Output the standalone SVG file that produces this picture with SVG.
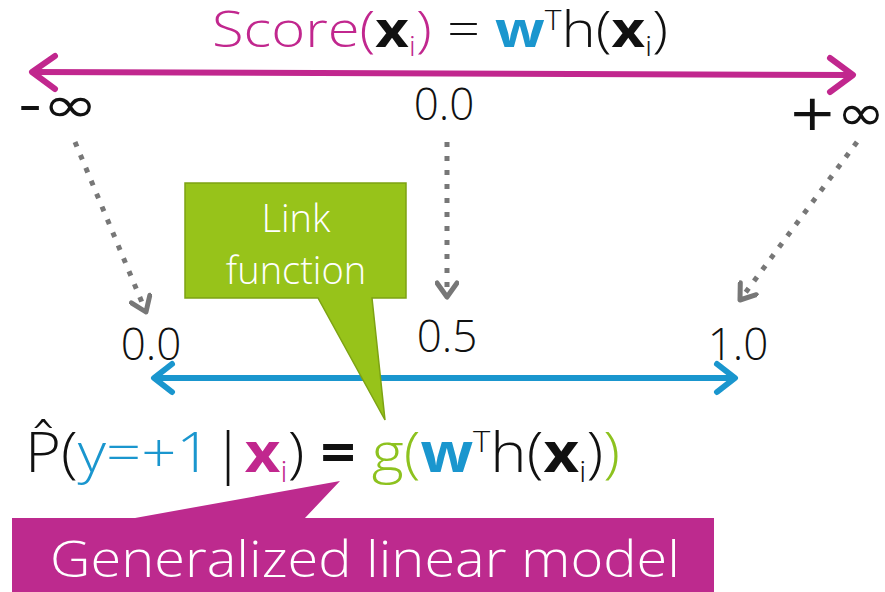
<svg xmlns="http://www.w3.org/2000/svg" width="885" height="592" viewBox="0 0 885 592">
<defs>
<style>
text{font-family:"Open Sans","Liberation Sans",sans-serif;font-weight:300;}
.mg{fill:#C1278E}.bl{fill:#1A96CE}.gr{fill:#8DC21F}.k{fill:#111}
.b{font-weight:700}
.dot{fill:none;stroke:#777;stroke-width:5;stroke-dasharray:5 9;marker-end:url(#chev)}
.inf{font-family:"DejaVu Sans",sans-serif;font-weight:400}
</style>
<marker id="chev" viewBox="0 0 24 24" refX="20" refY="12" markerWidth="24" markerHeight="24" orient="auto" markerUnits="userSpaceOnUse">
<path d="M6,2 L20,12 L6,22" fill="none" stroke="#777" stroke-width="5" stroke-dasharray="none" stroke-linecap="round" stroke-linejoin="round"/>
</marker>
</defs>
<g id="connectors">
<line x1="32" y1="72" x2="853" y2="75" stroke="#C1278E" stroke-width="6"/>
<polyline points="55,56 32,72 55,89" fill="none" stroke="#C1278E" stroke-width="6" stroke-linecap="round" stroke-linejoin="round"/>
<polyline points="830,58 853,75 830,92" fill="none" stroke="#C1278E" stroke-width="6" stroke-linecap="round" stroke-linejoin="round"/>
<line x1="154" y1="378" x2="735" y2="378" stroke="#1A96CE" stroke-width="6"/>
<polyline points="172,364 154,378 172,392" fill="none" stroke="#1A96CE" stroke-width="6" stroke-linecap="round" stroke-linejoin="round"/>
<polyline points="717,364 735,378 717,392" fill="none" stroke="#1A96CE" stroke-width="6" stroke-linecap="round" stroke-linejoin="round"/>
<path class="dot" d="M75,142 L146,312"/>
<path class="dot" d="M447,142 L447,297"/>
<path class="dot" d="M857,142 L740,300"/>
</g>
<g id="score-title">
<text x="212" y="47" font-size="49" textLength="456" lengthAdjust="spacingAndGlyphs"><tspan class="mg">Score(</tspan><tspan class="k b">x</tspan><tspan class="mg" font-size="27" dy="9">i</tspan><tspan class="mg" dy="-9">)</tspan><tspan class="k"> = </tspan><tspan class="bl b">w</tspan><tspan class="k" font-size="27" dy="-17">T</tspan><tspan class="k" dy="17">h(</tspan><tspan class="k b">x</tspan><tspan class="k" font-size="27" dy="9">i</tspan><tspan class="k" dy="-9">)</tspan></text>
</g>
<g id="labels-top">
<text x="18" y="122" font-size="50" class="k inf" textLength="80" lengthAdjust="spacingAndGlyphs">-∞</text>
<text x="444" y="120" font-size="44" class="k" text-anchor="middle">0.0</text>
<text x="788" y="130" font-size="50" class="k inf" textLength="97" lengthAdjust="spacingAndGlyphs">+∞</text>
</g>
<g id="labels-bottom">
<text x="151" y="360" font-size="44" class="k" text-anchor="middle">0.0</text>
<text x="447" y="352" font-size="44" class="k" text-anchor="middle">0.5</text>
<text x="738" y="360" font-size="44" class="k" text-anchor="middle">1.0</text>
</g>
<g id="link-function">
<path d="M185,183 H406 V298 H372 L385,420 L318,298 H185 Z" fill="#97C31A" stroke="#7DA313" stroke-width="1.5"/>
<text x="296" y="232" font-size="38" fill="#fff" text-anchor="middle">Link</text>
<text x="296" y="284" font-size="38" fill="#fff" text-anchor="middle">function</text>
</g>
<g id="formula">
<text x="25" y="472" font-size="56" textLength="595" lengthAdjust="spacingAndGlyphs"><tspan class="k">P̂(</tspan><tspan class="bl">y=+1</tspan><tspan class="k">|</tspan><tspan class="mg b">x</tspan><tspan class="mg" font-size="30" dy="10">i</tspan><tspan class="k" dy="-10">) </tspan><tspan class="k b">=</tspan><tspan class="k"> </tspan><tspan class="gr">g(</tspan><tspan class="bl b">w</tspan><tspan class="k" font-size="30" dy="-20">T</tspan><tspan class="k" dy="20">h(</tspan><tspan class="k b">x</tspan><tspan class="k" font-size="30" dy="10">i</tspan><tspan class="k" dy="-10">)</tspan><tspan class="gr">)</tspan></text>
</g>
<g id="glm">
<path d="M12,518 H135 L340,481 L305,518 H714 V600 H12 Z" fill="#BD2A8E"/>
<text x="365" y="577" font-size="50" fill="#fff" text-anchor="middle" textLength="630" lengthAdjust="spacingAndGlyphs">Generalized linear model</text>
</g>
</svg>
